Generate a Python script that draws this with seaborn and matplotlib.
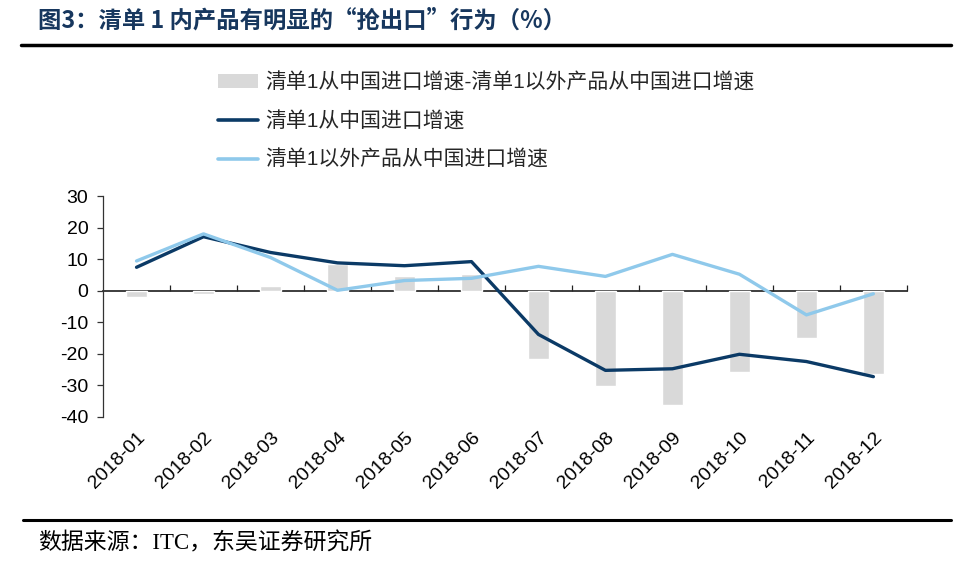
import matplotlib as mpl
mpl.use("Agg")
import matplotlib.pyplot as plt
from matplotlib.patches import Patch
from matplotlib.lines import Line2D
import numpy as np
import pandas as pd
import seaborn as sns

# data
months = ["2018-01", "2018-02", "2018-03", "2018-04", "2018-05", "2018-06",
          "2018-07", "2018-08", "2018-09", "2018-10", "2018-11", "2018-12"]
list1_growth = [7.4, 17.1, 12.1, 8.8, 7.9, 9.2, -13.9, -25.3, -24.8, -20.2, -22.5, -27.3]
other_growth = [9.4, 18.0, 10.5, 0.1, 3.2, 3.9, 7.7, 4.5, 11.5, 5.2, -7.7, -1.0]
gap = [-2.0, -1.0, 1.6, 8.5, 4.7, 5.3, -21.8, -30.2, -36.4, -25.7, -14.9, -26.3]

gap_label = "清单1从中国进口增速-清单1以外产品从中国进口增速"
list1_label = "清单1从中国进口增速"
other_label = "清单1以外产品从中国进口增速"

bar_color = "#D9D9D9"
dark_color = "#0B3A66"
light_color = "#8FC9EB"

sns.set_theme(style="white")
plt.rcParams["font.family"] = ["Liberation Sans", "Noto Sans CJK SC", "DejaVu Sans"]
plt.rcParams["axes.unicode_minus"] = False

df = pd.DataFrame({"month": months, "gap": gap, "list1": list1_growth, "other": other_growth})

fig = plt.figure(figsize=(9.72, 5.65), dpi=100)
ax = fig.add_axes([0.106, 0.2625, 0.827, 0.3905])

sns.barplot(data=df, x="month", y="gap", color=bar_color, width=0.31,
            saturation=1, ax=ax)
sns.pointplot(data=df, x="month", y="list1", color=dark_color, markers="",
              linewidth=2.4, ax=ax)
sns.pointplot(data=df, x="month", y="other", color=light_color, markers="",
              linewidth=2.4, ax=ax)

ax.set_xlim(-0.5, len(months) - 0.5)
ax.set_ylim(-40, 30)
ax.set_yticks(range(-40, 31, 10))
ax.set_xlabel("")
ax.set_ylabel("")

for side in ["top", "right", "bottom"]:
    ax.spines[side].set_visible(False)
ax.spines["left"].set_color("#333333")
ax.spines["left"].set_linewidth(0.9)
ax.tick_params(axis="y", direction="out", length=4.5, width=0.9, color="#333333",
               labelsize=14, pad=6, labelcolor="black", left=True)
ax.tick_params(axis="x", length=0, labelsize=14, pad=9, labelcolor="black")
plt.setp(ax.get_xticklabels(), rotation=45, ha="right", rotation_mode="anchor")

# zero line with category separators
zero_ax = ax.secondary_xaxis(40 / 70)
zero_ax.set_xticks(np.arange(0.5, len(months), 1.0))
zero_ax.set_xticklabels([])
zero_ax.tick_params(direction="out", length=4.5, width=0.9, color="#222222")
zero_ax.spines["bottom"].set_color("black")
zero_ax.spines["bottom"].set_linewidth(1.0)

handles = [Patch(facecolor=bar_color, edgecolor="none"),
           Line2D([], [], color=dark_color, lw=2.6),
           Line2D([], [], color=light_color, lw=2.6)]
fig.legend(handles, [gap_label, list1_label, other_label], loc="upper left",
           bbox_to_anchor=(0.224, 0.872), frameon=False, fontsize=15,
           handlelength=1.95, handletextpad=0.35, labelspacing=0.9,
           borderpad=0, borderaxespad=0)

fig.text(0.039, 0.963, "图3：清单 1 内产品有明显的“抢出口”行为（%）",
         fontsize=16.8, fontweight="bold", color="#17375E", va="center",
         family=["Noto Sans CJK SC", "Liberation Serif"])
fig.add_artist(Line2D([0.022, 0.978], [0.920, 0.920], transform=fig.transFigure,
                      color="black", lw=2.5))
fig.add_artist(Line2D([0.024, 0.978], [0.080, 0.080], transform=fig.transFigure,
                      color="black", lw=2.2))
fig.text(0.039, 0.038, "数据来源：ITC，东吴证券研究所", fontsize=16.5,
         color="black", va="center", family=["Liberation Serif", "Noto Sans CJK SC"])

plt.savefig("out.png", dpi=100)
plt.close()
